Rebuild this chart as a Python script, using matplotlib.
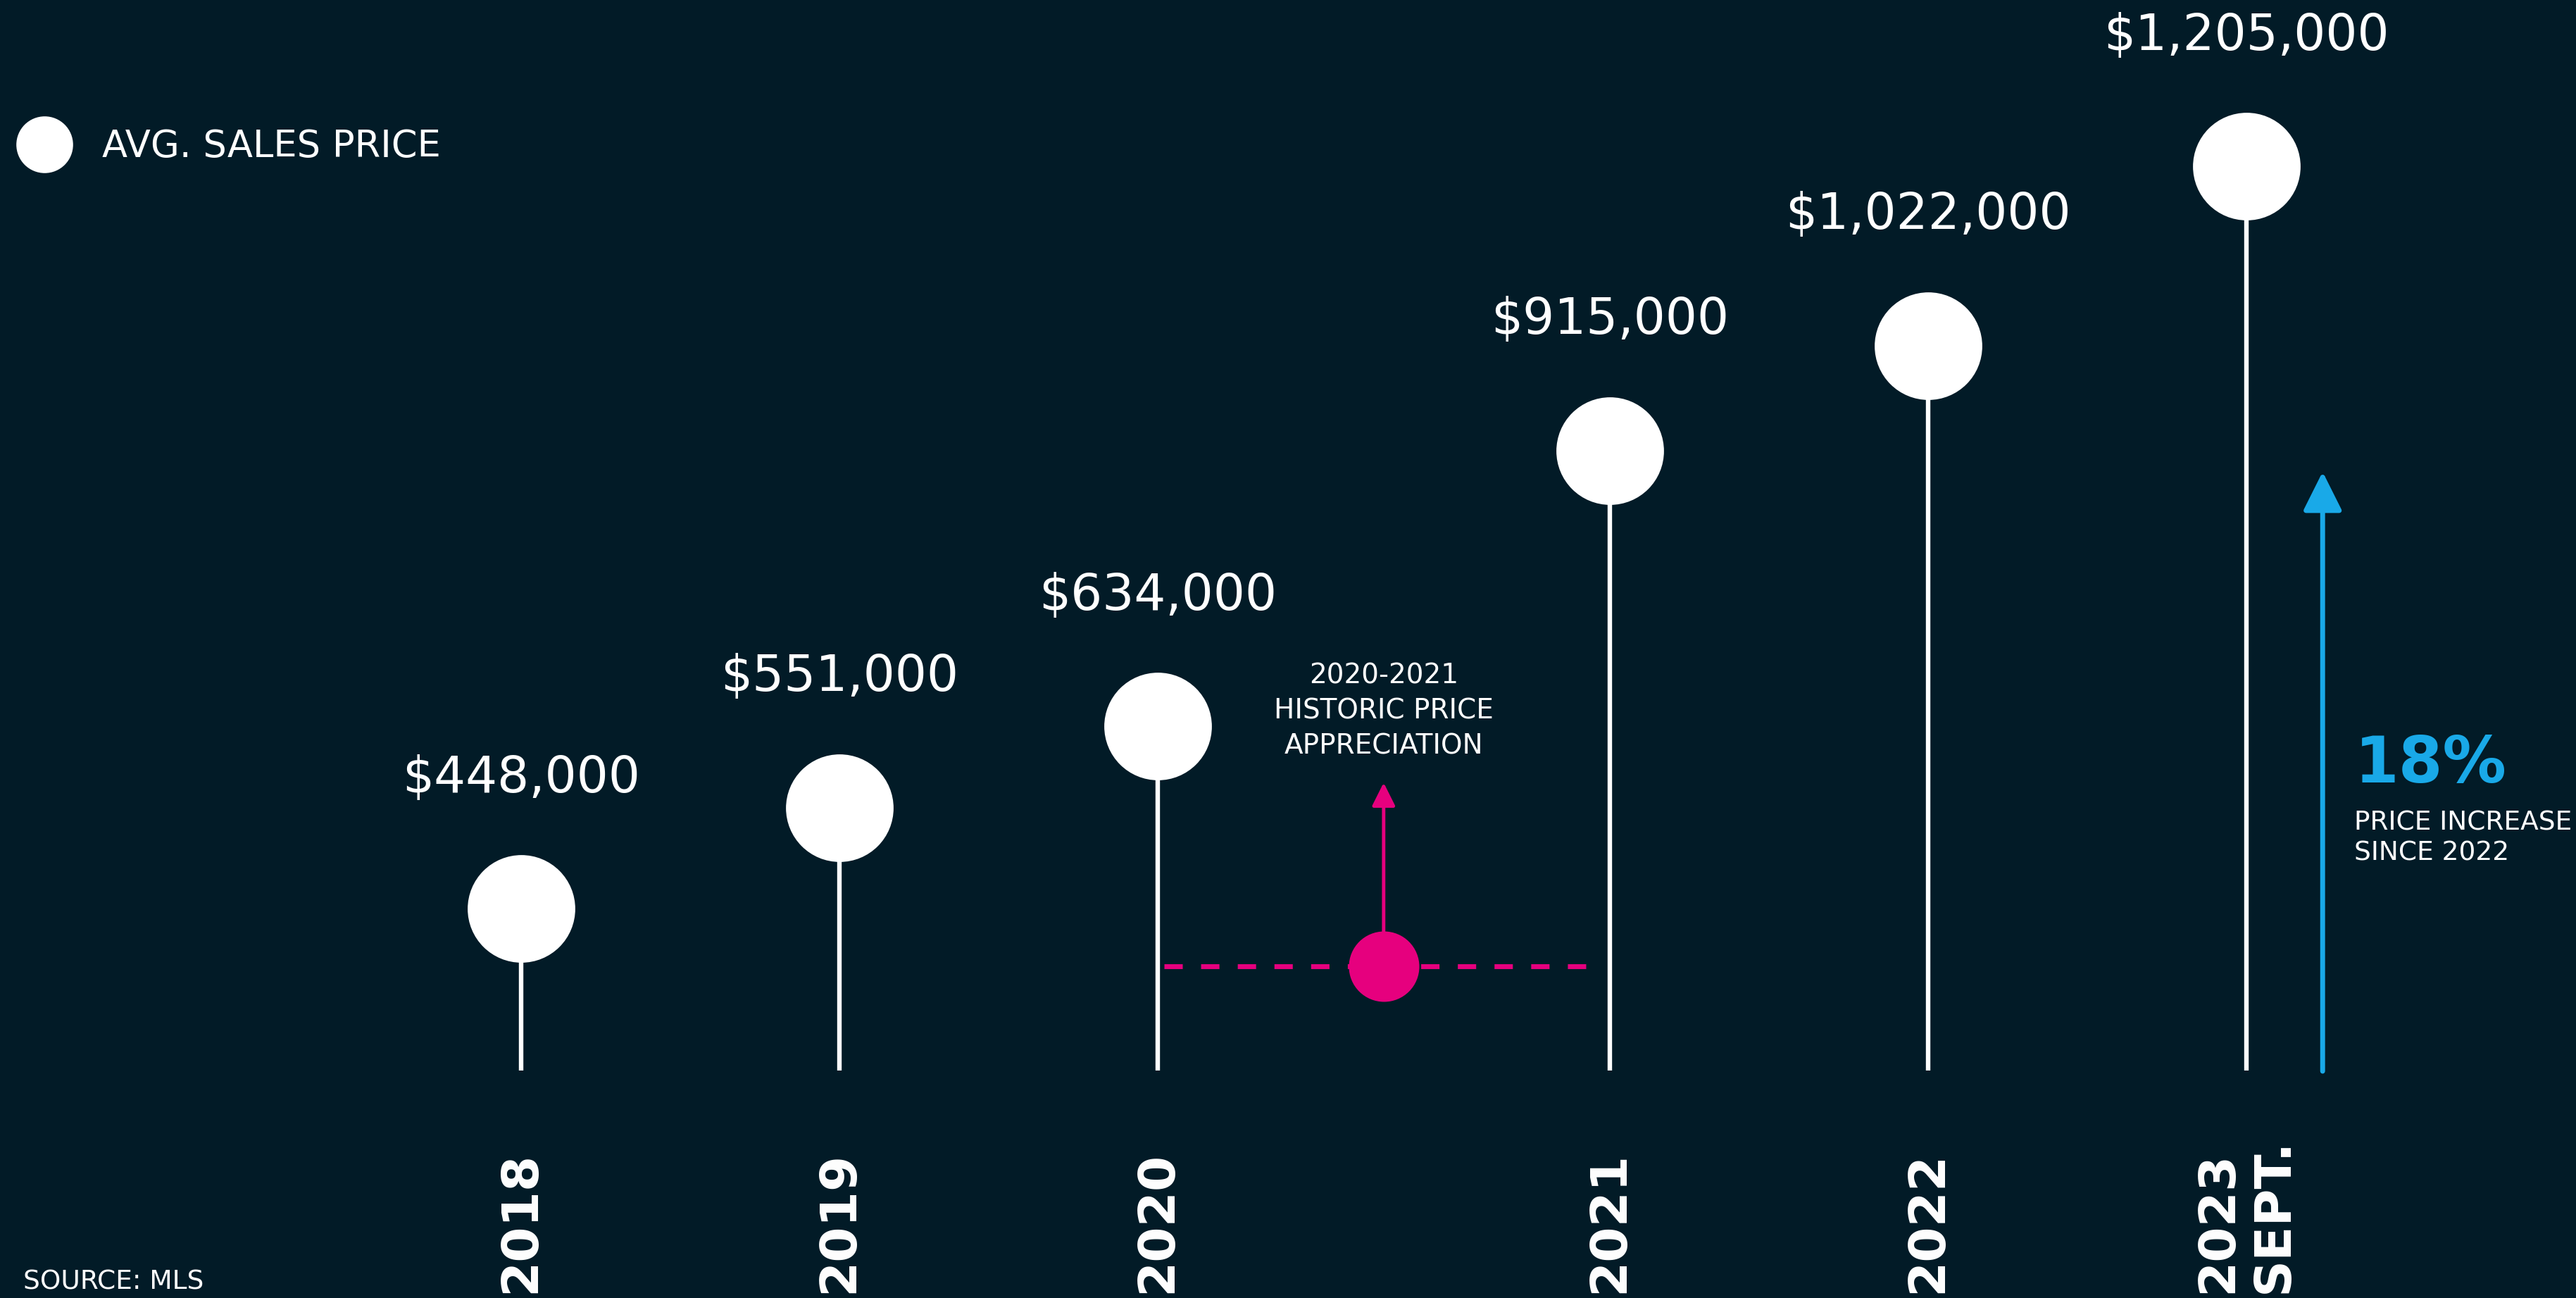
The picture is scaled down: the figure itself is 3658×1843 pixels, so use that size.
import numpy as np
import matplotlib
matplotlib.use('Agg')
import matplotlib.pyplot as plt

# data
years = ['2018', '2019', '2020', '2021', '2022', '2023\nSEPT.']
avg_price = [448000, 551000, 634000, 915000, 1022000, 1205000]
price_labels = ['$448,000', '$551,000', '$634,000', '$915,000', '$1,022,000', '$1,205,000']
legend_label = 'AVG. SALES PRICE'
source_text = 'SOURCE: MLS'
highlight_text = '2020-2021\nHISTORIC PRICE\nAPPRECIATION'
increase_pct = '18%'
increase_text = 'PRICE INCREASE\nSINCE 2022'

BG = '#021b27'
WHITE = '#ffffff'
PINK = '#e6007e'
BLUE = '#19a9e8'

plt.rcParams['font.family'] = ['DejaVu Sans']

fig = plt.figure(figsize=(36.58, 18.43), dpi=100, facecolor=BG)
ax = fig.add_axes([0, 0, 1, 1])
ax.set_facecolor(BG)
ax.set_axis_off()

# the 2020-2021 interval gets a wider gap for its annotation
gap = 0.42
x = np.arange(len(years)) + np.where(np.arange(len(years)) >= 3, gap, 0.0)

ax.set_xlim(-1.637, 6.456)
ax.set_ylim(51000, 1374400)
ymin, ymax = ax.get_ylim()
base = ymin + 0.175 * (ymax - ymin)

# lollipops
ax.vlines(x, base, avg_price, color=WHITE, lw=4.6, zorder=2)
ax.plot(x, avg_price, 'o', ms=110, color=WHITE, mew=0, zorder=3)

for xi, v, lab in zip(x, avg_price, price_labels):
    ax.annotate(lab, xy=(xi, v), xytext=(0, 119), textcoords='offset points',
                ha='center', va='baseline', color=WHITE, fontsize=51)

for xi, yr in zip(x, years):
    ax.text(xi, 0.004, yr, transform=ax.get_xaxis_transform(), rotation=90,
            ha='center', va='bottom', multialignment='left',
            color=WHITE, fontsize=52, fontweight='bold', linespacing=1.2)

# legend
ax.plot([0.0172], [0.8888], 'o', ms=58, color=WHITE, mew=0, transform=ax.transAxes)
ax.text(0.0396, 0.879, legend_label, transform=ax.transAxes, color=WHITE,
        fontsize=38, ha='left', va='baseline')

# source
ax.text(0.009, 0.007, source_text, transform=ax.transAxes, color=WHITE,
        fontsize=27, ha='left', va='baseline')

# 2020-2021 highlight
tr = ax.get_xaxis_transform()
xm = (x[2] + x[3]) / 2
ax.plot([x[2] + 0.02, x[3] - 0.03], [0.2555, 0.2555], color=PINK, lw=5,
        dashes=(3.75, 3.75), transform=tr, zorder=1)
ax.annotate('', xy=(xm, 0.397), xytext=(xm, 0.2555), xycoords=tr, textcoords=tr,
            arrowprops=dict(arrowstyle='-|>', color=PINK, lw=3.5, mutation_scale=50,
                            shrinkA=0, shrinkB=0), zorder=2)
ax.plot([xm], [0.2555], 'o', ms=72, color=PINK, mew=0, transform=tr, zorder=3)
ax.text(xm, 0.4525, highlight_text, transform=tr, color=WHITE, fontsize=28,
        ha='center', va='center', multialignment='center', linespacing=1.4)

# increase since 2022
xb = x[5] + 0.24
ax.annotate('', xy=(xb, 0.6365), xytext=(xb, 0.1747), xycoords=tr, textcoords=tr,
            arrowprops=dict(arrowstyle='-|>', color=BLUE, lw=5, mutation_scale=85,
                            shrinkA=0, shrinkB=0))
ax.text(x[5] + 0.34, 0.397, increase_pct, transform=tr, color=BLUE, fontsize=65,
        fontweight='bold', ha='left', va='baseline')
ax.text(x[5] + 0.34, 0.376, increase_text, transform=tr, color=WHITE, fontsize=27,
        ha='left', va='top', linespacing=1.25)

fig.savefig('out.png', dpi=100, facecolor=BG)
